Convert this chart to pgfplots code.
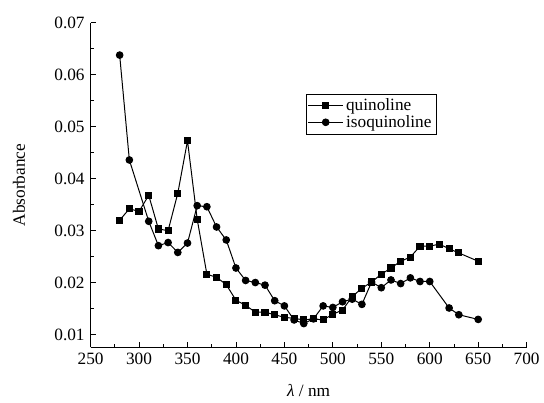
\documentclass[border=0pt]{standalone}
\usepackage{pgfplots}
\pgfplotsset{compat=1.18}
\usepackage{fontspec}
\setmainfont{Liberation Serif}
\begin{document}
\begin{tikzpicture}[x=1pt,y=1pt]
\pgfplotstableread{
x y
280 0.0320
290 0.0342
300 0.0337
310 0.0368
320 0.0303
330 0.0300
340 0.0372
350 0.0473
360 0.0322
370 0.0216
380 0.0210
390 0.0196
400 0.0166
410 0.0156
420 0.0143
430 0.0143
440 0.0138
450 0.0133
460 0.0131
470 0.0128
480 0.0130
490 0.0128
500 0.0139
510 0.0147
520 0.0173
530 0.0189
540 0.0201
550 0.0216
560 0.0228
570 0.0241
580 0.0249
590 0.0270
600 0.0270
610 0.0274
620 0.0265
630 0.0257
650 0.0241
}\quin
\pgfplotstableread{
x y
280 0.0638
290 0.0436
310 0.0318
320 0.0271
330 0.0277
340 0.0258
350 0.0276
360 0.0348
370 0.0346
380 0.0307
390 0.0282
400 0.0228
410 0.0204
420 0.0200
430 0.0195
440 0.0165
450 0.0155
460 0.0128
470 0.0121
480 0.0130
490 0.0155
500 0.0152
510 0.0163
520 0.0168
530 0.0158
540 0.0201
550 0.0190
560 0.0205
570 0.0198
580 0.0209
590 0.0202
600 0.0202
620 0.0151
630 0.0138
650 0.0129
}\isoq
\begin{axis}[
  name=ax,
  scale only axis,
  width=328.5pt, height=244.5pt,
  xmin=250, xmax=700, ymin=0.0075, ymax=0.07,
  axis x line*=bottom, axis y line*=left,
  axis line style={-, line width=0.75pt},
  xtick={250,300,...,700},
  ytick={0.01,0.02,0.03,0.04,0.05,0.06,0.07},
  minor x tick num=1, minor y tick num=1,
  tick align=inside,
  major tick length=4pt, minor tick length=2.5pt,
  tick style={line width=0.6pt, black},
  scaled y ticks=false,
  /pgf/number format/assume math mode=true,
  yticklabel style={/pgf/number format/fixed, /pgf/number format/fixed zerofill, /pgf/number format/precision=2, xshift=-1pt},
  xticklabel style={/pgf/number format/1000 sep={}, yshift=-1pt},
  ticklabel style={font=\fontsize{13}{15}\selectfont},
  xlabel={\textit{λ} / nm},
  ylabel={Absorbance},
  every axis x label/.style={at={(axis description cs:0.5,-0.1319)}, anchor=center, font=\fontsize{13}{15}\selectfont},
  every axis y label/.style={at={(axis description cs:-0.1644,0.5)}, rotate=90, anchor=center, font=\fontsize{13}{15}\selectfont},
  legend style={at={(0.493,0.782)}, anchor=north west, draw=black, line width=0.6pt,
    font=\fontsize{13}{15}\selectfont, cells={anchor=west}, row sep=-2pt, inner sep=1.5pt},
  legend image code/.code={\draw[mark repeat=2,mark phase=2,#1] plot coordinates {(0pt,0pt) (13pt,0pt) (26pt,0pt)};},
]
\addplot[black, line width=0.75pt, mark=square*, mark size=2.3pt] table {\quin};
\addlegendentry{quinoline}
\addplot[black, line width=0.75pt, mark=*, mark size=2.5pt] table {\isoq};
\addlegendentry{isoquinoline}
\end{axis}
\path (ax.south west) ++(-68.25pt,-41.25pt) rectangle ++(408pt,303pt);
\end{tikzpicture}
\end{document}
